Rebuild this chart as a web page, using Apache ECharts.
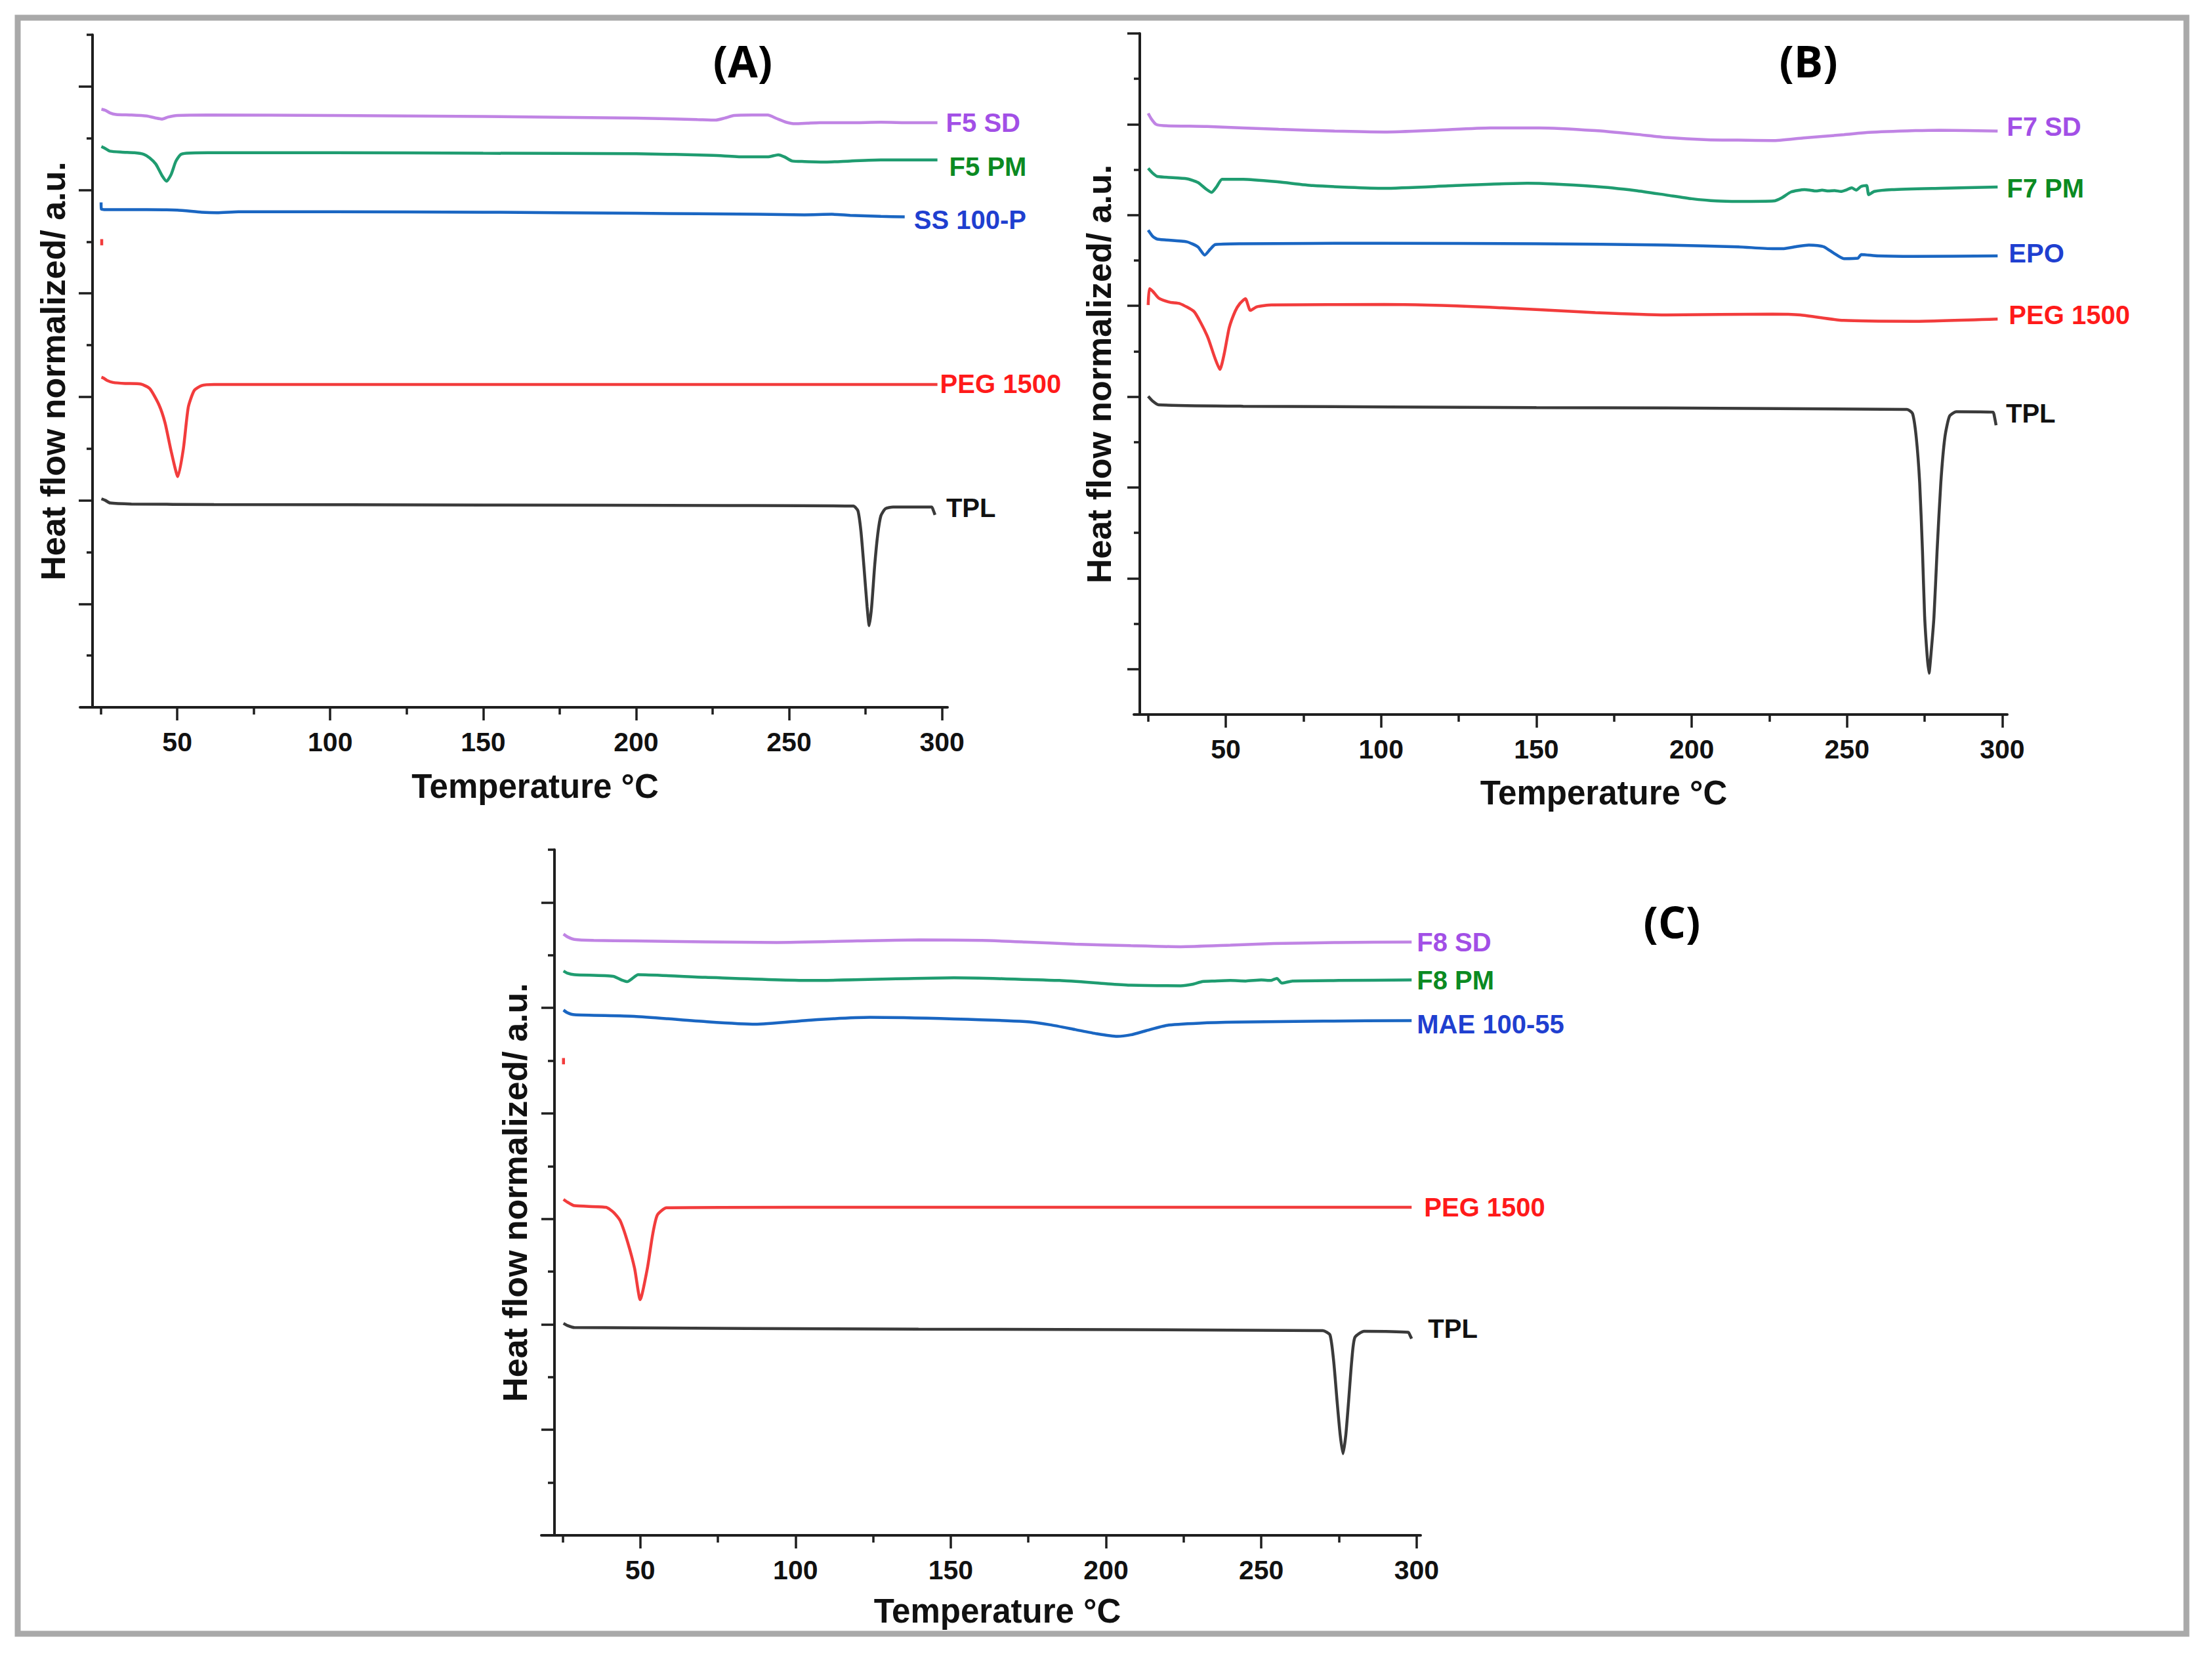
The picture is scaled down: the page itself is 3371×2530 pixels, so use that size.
<!DOCTYPE html>
<html>
<head>
<meta charset="utf-8">
<script src="https://cdn.jsdelivr.net/npm/echarts@6/dist/echarts.min.js"></script>
<style>
html,body{margin:0;padding:0;background:#ffffff;}
#c{width:3371px;height:2530px;}
</style>
</head>
<body>
<div id="c"></div>
<script>
// ---------- tick values ----------
const X_MAJOR = [50, 100, 150, 200, 250, 300];
const X_MINOR = [25, 75, 125, 175, 225, 275];
const Y_MAJOR_AC = [2, 4, 6, 8, 10, 12];
const Y_MINOR_AC = [1, 3, 5, 7, 9, 11, 13];
const Y_MAJOR_B = [1, 3, 5, 7, 9, 11, 13, 15];
const Y_MINOR_B = [2, 4, 6, 8, 10, 12, 14];

// ---------- panel A data [temperature °C, heat flow a.u.] ----------
const A_F5_SD = [[25.2,11.56],[26.5,11.54],[28,11.49],[30,11.46],[35,11.45],[40,11.43],[43,11.39],[45,11.37],[47,11.41],[50,11.44],[60,11.45],[100,11.44],[150,11.42],[200,11.39],[220,11.36],[226,11.35],[229,11.39],[232,11.44],[238,11.45],[243,11.45],[246,11.38],[249,11.31],[252,11.28],[256,11.29],[260,11.30],[270,11.30],[280,11.31],[290,11.30],[298.5,11.30]];
const A_F5_PM = [[25.2,10.84],[26.5,10.80],[28,10.75],[32,10.73],[36,10.72],[39,10.69],[41,10.62],[43,10.50],[45,10.28],[46.5,10.17],[48,10.30],[49.5,10.55],[51,10.68],[53,10.71],[60,10.72],[100,10.72],[150,10.71],[200,10.70],[225,10.67],[235,10.64],[243,10.64],[246.5,10.68],[248.5,10.64],[251,10.56],[255,10.55],[262,10.54],[270,10.56],[280,10.58],[298.5,10.58]];
const A_SS100P = [[25.1,9.76],[25.2,9.63],[27,9.62],[40,9.62],[50,9.61],[58,9.57],[63,9.56],[70,9.58],[100,9.58],[150,9.57],[200,9.55],[240,9.53],[255,9.52],[264,9.53],[270,9.51],[280,9.49],[287.8,9.48]];
const A_RED_MARK = [[25.3,9.05],[25.3,8.93]];
const A_PEG = [[25.2,6.38],[26,6.36],[27,6.32],[29,6.28],[33,6.26],[38,6.25],[41,6.16],[44,5.85],[46,5.5],[48,4.95],[50.2,4.46],[52,5.0],[53.6,5.8],[55.5,6.12],[58,6.22],[62,6.24],[100,6.24],[200,6.24],[298.5,6.24]];
const A_TPL = [[25.2,4.03],[26.5,4.0],[28,3.95],[35,3.93],[62,3.92],[150,3.91],[230,3.90],[271,3.89],[272.5,3.8],[273.5,3.4],[274.5,2.7],[275.5,1.95],[276.2,1.58],[277,1.95],[278,2.75],[279,3.35],[280,3.7],[281.5,3.84],[284,3.87],[296.6,3.87],[297.2,3.8],[297.7,3.72]];

// ---------- panel B data ----------
const B_F7_SD = [[25,13.24],[26,13.12],[27.5,13.0],[30,12.97],[44,12.95],[67,12.89],[85,12.85],[101,12.83],[118,12.87],[135,12.92],[151,12.92],[169,12.86],[182,12.78],[192,12.71],[205,12.66],[215,12.65],[226,12.64],[236,12.70],[249,12.77],[257,12.82],[272,12.86],[280,12.87],[298.5,12.85]];
const B_F7_PM = [[25,12.03],[26.5,11.92],[28,11.85],[37.5,11.80],[41,11.72],[43.5,11.58],[45.4,11.50],[47,11.62],[48.8,11.79],[55.6,11.79],[67,11.73],[78,11.65],[101,11.59],[124,11.65],[147,11.70],[169,11.63],[182,11.54],[192,11.44],[200,11.36],[208,11.31],[215,11.30],[226.4,11.31],[229,11.38],[232,11.51],[236.3,11.56],[238,11.55],[240,11.53],[242,11.55],[244,11.53],[246,11.54],[248,11.52],[250,11.56],[251.5,11.60],[253,11.55],[254.5,11.63],[256.3,11.65],[257,11.45],[258.8,11.52],[264.4,11.56],[280,11.59],[298.5,11.62]];
const B_EPO = [[25,10.67],[26.5,10.53],[28,10.47],[37.5,10.41],[41,10.30],[43.2,10.12],[45,10.25],[46.6,10.35],[55,10.37],[100,10.38],[150,10.37],[192,10.34],[215,10.30],[226,10.26],[229.2,10.26],[234,10.31],[237.7,10.34],[240.5,10.33],[242.6,10.30],[246,10.15],[249,10.04],[253.5,10.05],[254.6,10.13],[260,10.10],[271.5,10.09],[298.5,10.10]];
const B_PEG = [[25,9.02],[25.4,9.38],[26.5,9.32],[28.4,9.17],[32,9.08],[35.2,9.05],[39.7,8.88],[42,8.62],[44.3,8.29],[46.5,7.85],[48.1,7.60],[49.5,7.95],[51.1,8.52],[53,8.88],[54.5,9.05],[56.3,9.16],[57.9,8.90],[60,8.98],[64.7,9.02],[101,9.03],[135,8.97],[169,8.85],[192,8.80],[226,8.82],[235,8.80],[248.9,8.68],[271.6,8.66],[298.5,8.71]];
const B_TPL = [[25,7.01],[26.5,6.9],[28.4,6.82],[55.6,6.79],[150,6.76],[269.3,6.72],[271.1,6.63],[272.3,6.1],[273.4,5.10],[274.3,3.6],[275,2.15],[275.8,1.3],[276.4,0.91],[277,1.3],[278,2.15],[279,3.6],[280.2,5.10],[281.5,6.1],[283,6.57],[285.2,6.67],[297,6.66],[297.5,6.55],[298,6.37]];

// ---------- panel C data ----------
const C_F8_SD = [[25.3,11.40],[26.5,11.35],[28.8,11.30],[35,11.28],[48,11.27],[94,11.24],[120,11.27],[140,11.29],[160,11.28],[174,11.25],[190,11.21],[208,11.18],[224,11.16],[240,11.19],[254,11.22],[275,11.24],[298.4,11.25]];
const C_F8_PM = [[25.3,10.70],[26.5,10.66],[28.8,10.63],[41.3,10.60],[44,10.53],[45.9,10.50],[47.5,10.56],[49.3,10.63],[71,10.58],[105,10.52],[151,10.57],[185,10.52],[200,10.46],[208,10.43],[224,10.42],[228,10.45],[231,10.50],[235,10.51],[240,10.52],[245,10.51],[250,10.53],[253,10.52],[255,10.56],[256.6,10.47],[260,10.51],[275,10.52],[298.4,10.53]];
const C_MAE = [[25.3,9.96],[26.5,9.91],[28.8,9.87],[48,9.84],[71,9.74],[87,9.69],[105,9.77],[124,9.82],[151,9.79],[174,9.74],[182,9.68],[190,9.59],[197,9.51],[203.6,9.46],[208,9.49],[213,9.57],[219.6,9.67],[230,9.71],[242,9.73],[270,9.75],[298.4,9.76]];
const C_RED_MARK = [[25.3,9.05],[25.3,8.93]];
const C_PEG = [[25.3,6.37],[26.5,6.32],[28.8,6.25],[39,6.22],[41.5,6.12],[43.6,5.96],[46,5.55],[48.2,5.06],[50,4.47],[52.3,5.06],[54,5.7],[55.5,6.07],[58.5,6.21],[100,6.22],[298.4,6.22]];
const C_TPL = [[25.3,4.02],[26.5,3.98],[28.8,3.94],[139.6,3.91],[269.8,3.88],[272.1,3.80],[273.3,3.3],[274.4,2.54],[275.4,1.9],[276.3,1.55],[277.2,1.9],[278.1,2.54],[279.1,3.3],[280.1,3.75],[283.1,3.87],[297.3,3.85],[297.9,3.79],[298.4,3.73]];

// ---------- styling ----------
const FONT = '"Liberation Sans", Arial, sans-serif';
const AX = '#1e1e1e';
const COL = {
  sd:  {line:'#c084e4', label:'#a24fe6'},
  pm:  {line:'#1f9c70', label:'#0b8a22'},
  blue:{line:'#1a66c2', label:'#1f3fd0'},
  red: {line:'#f23c3c', label:'#ff1a1a'},
  blk: {line:'#3a3a3a', label:'#111111'}
};

function xAxes(g, min, max, nameGap, namePadLeft) {
  return [
    {type:'value', gridIndex:g, position:'bottom', min:min, max:max,
     axisLine:{show:true, onZero:false, lineStyle:{color:AX, width:4}},
     axisTick:{show:true, customValues:X_MAJOR, length:20, lineStyle:{color:AX, width:3.5}},
     axisLabel:{show:true, customValues:X_MAJOR, margin:32, fontSize:41, fontWeight:'bold', color:'#111', fontFamily:FONT},
     splitLine:{show:false},
     name:'Temperature °C', nameLocation:'middle', nameGap:nameGap,
     nameTextStyle:{fontSize:51, fontWeight:'bold', color:'#111', fontFamily:FONT, padding:[0,0,0,namePadLeft]}},
    {type:'value', gridIndex:g, position:'bottom', min:min, max:max,
     axisLine:{show:false, onZero:false},
     axisTick:{show:true, customValues:X_MINOR, length:11, lineStyle:{color:AX, width:3.5}},
     axisLabel:{show:false}, splitLine:{show:false}}
  ];
}
function yAxes(g, max, major, minor, majLen, minLen, nameGap, off) {
  return [
    {type:'value', gridIndex:g, position:'left', offset:off, min:0, max:max,
     axisLine:{show:true, onZero:false, lineStyle:{color:AX, width:4}},
     axisTick:{show:true, customValues:major, length:majLen, lineStyle:{color:AX, width:3.5}},
     axisLabel:{show:false}, splitLine:{show:false},
     name:'Heat flow normalized/ a.u.', nameLocation:'middle', nameGap:nameGap,
     nameTextStyle:{fontSize:52, fontWeight:'bold', color:'#111', fontFamily:FONT}},
    {type:'value', gridIndex:g, position:'left', offset:off, min:0, max:max,
     axisLine:{show:false, onZero:false},
     axisTick:{show:true, customValues:minor, length:minLen, lineStyle:{color:AX, width:3.5}},
     axisLabel:{show:false}, splitLine:{show:false}}
  ];
}
function line(name, data, g, col, dist, offY) {
  return {
    type:'line', name:name, data:data, xAxisIndex:2*g, yAxisIndex:2*g,
    symbol:'none', showSymbol:false, smooth:0.2, silent:true, z:3,
    lineStyle:{color:col.line, width:4.5},
    endLabel:{show:true, formatter:name, color:col.label, fontSize:40, fontWeight:'bold',
              fontFamily:FONT, distance:dist, offset:[0, offY]}
  };
}
function mark(data, g) {
  return {type:'line', data:data, xAxisIndex:2*g, yAxisIndex:2*g, symbol:'none', silent:true,
          lineStyle:{color:COL.red.line, width:4.5}};
}

const chart = echarts.init(document.getElementById('c'), null, {renderer:'svg', width:3371, height:2530});
chart.setOption({
  animation:false,
  backgroundColor:'#ffffff',
  grid:[
    {left:122, top:53, width:1322, height:1025},
    {left:1728, top:51, width:1331, height:1038},
    {left:825, top:1295, width:1340, height:1045}
  ],
  xAxis:[].concat(xAxes(0, 18.22, 301.8, 95, 65), xAxes(1, 20.4, 301.6, 94, 101), xAxes(2, 18.17, 301.3, 90, 50)),
  yAxis:[].concat(yAxes(0, 13, Y_MAJOR_AC, Y_MINOR_AC, 21, 9, 34, -19),
                  yAxes(1, 15, Y_MAJOR_B, Y_MINOR_B, 19, 9, 36, -9),
                  yAxes(2, 13, Y_MAJOR_AC, Y_MINOR_AC, 20, 10, 34, -20)),
  graphic:[
    {type:'rect', silent:true, z:-1, shape:{x:27, y:27, width:3305, height:2463},
     style:{fill:'none', stroke:'#a9a9a9', lineWidth:9}},
    {type:'text', x:1132, y:92, silent:true,
     style:{text:'(A)', font:'bold 66px "Open Sans", sans-serif', fill:'#000', align:'center', verticalAlign:'middle', textAlign:'center', textVerticalAlign:'middle'}},
    {type:'text', x:2756, y:92, silent:true,
     style:{text:'(B)', font:'bold 66px "Open Sans", sans-serif', fill:'#000', align:'center', verticalAlign:'middle', textAlign:'center', textVerticalAlign:'middle'}},
    {type:'text', x:2548, y:1404, silent:true,
     style:{text:'(C)', font:'bold 66px "Open Sans", sans-serif', fill:'#000', align:'center', verticalAlign:'middle', textAlign:'center', textVerticalAlign:'middle'}}
  ],
  series:[
    line('F5 SD', A_F5_SD, 0, COL.sd, 13, 0),
    line('F5 PM', A_F5_PM, 0, COL.pm, 18, 10),
    line('SS 100-P', A_SS100P, 0, COL.blue, 14, 4),
    mark(A_RED_MARK, 0),
    line('PEG 1500', A_PEG, 0, COL.red, 4, -1),
    line('TPL', A_TPL, 0, COL.blk, 17, -11),

    line('F7 SD', B_F7_SD, 1, COL.sd, 14, -7),
    line('F7 PM', B_F7_PM, 1, COL.pm, 14, 2),
    line('EPO', B_EPO, 1, COL.blue, 17, -4),
    line('PEG 1500', B_PEG, 1, COL.red, 17, -6),
    line('TPL', B_TPL, 1, COL.blk, 15, -18),

    line('F8 SD', C_F8_SD, 2, COL.sd, 8, 0),
    line('F8 PM', C_F8_PM, 2, COL.pm, 8, 0),
    line('MAE 100-55', C_MAE, 2, COL.blue, 8, 6),
    mark(C_RED_MARK, 2),
    line('PEG 1500', C_PEG, 2, COL.red, 19, 0),
    line('TPL', C_TPL, 2, COL.blk, 25, -15)
  ]
});
</script>
</body>
</html>
